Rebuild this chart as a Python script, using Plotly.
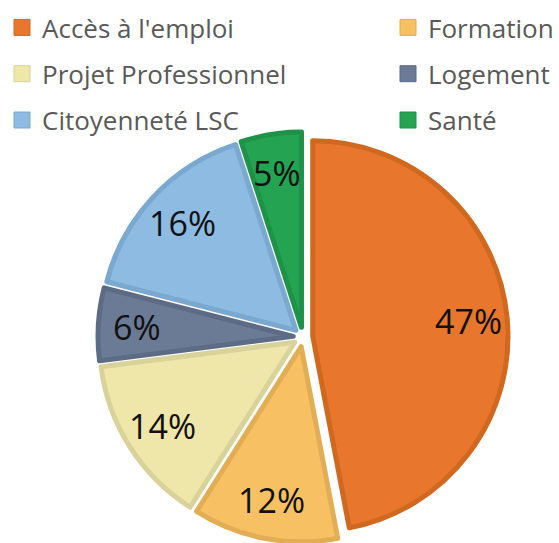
import math
import plotly.graph_objects as go

labels = ["Accès à l'emploi", "Formation", "Projet Professionnel", "Logement", "Citoyenneté LSC", "Santé"]
values = [47, 12, 14, 6, 16, 5]
fill_colors = ["#E8762C", "#F6C063", "#EFE6A9", "#6B7A95", "#8DBBE1", "#24A352"]
line_colors = ["#D0691F", "#E2AE55", "#D9D29A", "#5D6B85", "#7BA8CF", "#1E9247"]
legend_cols = ["legend", "legend2", "legend", "legend2", "legend", "legend2"]

W, H = 559, 543
cx, cy, R = 303, 337, 205
PULL = 0.05
fig = go.Figure(go.Pie(
    labels=labels, values=values, sort=False, direction="clockwise", rotation=0,
    marker=dict(colors=fill_colors, line=dict(color=line_colors, width=5)),
    pull=[PULL] * len(values), showlegend=False,
    textinfo="none", hovertemplate="%{label}: %{percent:.0%}<extra></extra>",
    domain=dict(x=[(cx - R) / W, (cx + R) / W], y=[max(0, (H - cy - R) / H), (H - cy + R) / H]),
))

# percentage labels placed along each slice's mid-angle (derived from the values)
total = sum(values)
R0 = R / (1 + PULL)
r_lab = 0.8 * R0 + PULL * R0
cum = 0
for v in values:
    ang = math.radians((cum + v / 2) / total * 360)
    cum += v
    px = cx + r_lab * math.sin(ang)
    py = cy - r_lab * math.cos(ang)
    fig.add_annotation(x=px / W, y=1 - py / H, xref="paper", yref="paper",
                       xanchor="center", yanchor="middle",
                       text=f"{round(v / total * 100)}%", showarrow=False,
                       font=dict(family="Open Sans", size=34, color="#111111"))

for lab, fc, lc, lg in zip(labels, fill_colors, line_colors, legend_cols):
    fig.add_trace(go.Scatter(
        x=[None], y=[None], mode="markers", name=lab, legend=lg, legendgroup=lab,
        marker=dict(symbol="square", size=16, color=fc, line=dict(color=lc, width=1)),
        showlegend=True, hoverinfo="skip",
    ))
leg_common = dict(orientation="v", yanchor="top", tracegroupgap=9.5,
                  font=dict(family="Open Sans", size=26, color="#595959"),
                  bgcolor="rgba(0,0,0,0)", traceorder="grouped")
fig.update_layout(
    width=W, height=H, margin=dict(l=0, r=0, t=0, b=0, autoexpand=False),
    paper_bgcolor="white", plot_bgcolor="white",
    font=dict(family="Open Sans", color="#595959"),
    xaxis=dict(visible=False), yaxis=dict(visible=False),
    legend=dict(x=2 / W, xanchor="left", y=1 - 4 / H, **leg_common),
    legend2=dict(x=1.0, xanchor="right", y=1 - 4 / H, **leg_common),
)
fig.write_html("out.html", config={"displayModeBar": False},
               post_script="document.body.style.margin='0';")
